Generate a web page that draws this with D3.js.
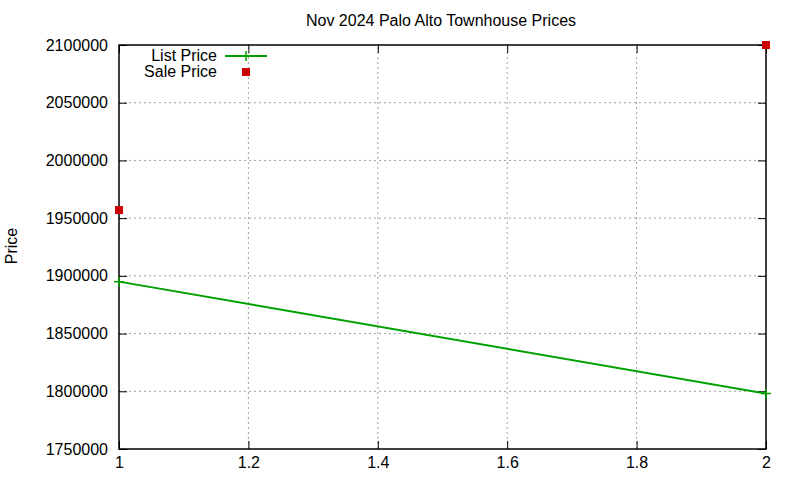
<!DOCTYPE html>
<html>
<head>
<meta charset="utf-8">
<script src="https://cdn.jsdelivr.net/npm/d3@7"></script>
<style>
  body { margin: 0; background: #fff; }
  svg text { font-family: "Liberation Sans", Arial, sans-serif; font-size: 16px; fill: #000; }
</style>
</head>
<body>
<div id="chart"></div>
<script>
// Data
const xValues = [1, 2];
const listPrice = [1895000, 1798000];
const salePrice = [1957000, 2100000];
const xTicks = [1, 1.2, 1.4, 1.6, 1.8, 2];
const yTicks = [1750000, 1800000, 1850000, 1900000, 1950000, 2000000, 2050000, 2100000];

const width = 800, height = 480;
const margin = { left: 119, right: 34, top: 45, bottom: 31 };

const svg = d3.select('#chart')
    .append('svg')
    .attr('width', width)
    .attr('height', height);

const x = d3.scaleLinear().domain([1, 2]).range([margin.left, width - margin.right]);
const y = d3.scaleLinear().domain([1750000, 2100000]).range([height - margin.bottom, margin.top]);

// Grid lines
const grid = svg.append('g').attr('stroke', '#a0a0a0').attr('stroke-dasharray', '2,3').attr('stroke-width', 1);
grid.selectAll('.gx')
    .data(xTicks.slice(1, -1))
    .enter().append('line')
    .attr('x1', d => x(d)).attr('x2', d => x(d))
    .attr('y1', y.range()[0]).attr('y2', y.range()[1]);
grid.selectAll('.gy')
    .data(yTicks.slice(1, -1))
    .enter().append('line')
    .attr('x1', x.range()[0]).attr('x2', x.range()[1])
    .attr('y1', d => y(d)).attr('y2', d => y(d));

// Axes (ticks pointing inward, mirrored)
const axisLeft = d3.axisLeft(y).tickValues(yTicks).tickFormat(d3.format('d')).tickSizeInner(-8).tickSizeOuter(0).tickPadding(11);
const axisRight = d3.axisRight(y).tickValues(yTicks).tickFormat('').tickSizeInner(-8).tickSizeOuter(0);
const axisBottom = d3.axisBottom(x).tickValues(xTicks).tickFormat(d3.format('~g')).tickSizeInner(-8).tickSizeOuter(0).tickPadding(8);
const axisTop = d3.axisTop(x).tickValues(xTicks).tickFormat('').tickSizeInner(-8).tickSizeOuter(0);

function styleAxis(g) {
    g.select('.domain').remove();
    g.selectAll('line').attr('stroke', '#000');
    g.selectAll('text').attr('font-size', 16).attr('font-family', '"Liberation Sans", Arial, sans-serif');
}

svg.append('g').attr('transform', `translate(${margin.left},0)`).call(axisLeft).call(styleAxis);
svg.append('g').attr('transform', `translate(${width - margin.right},0)`).call(axisRight).call(styleAxis);
svg.append('g').attr('transform', `translate(0,${height - margin.bottom})`).call(axisBottom).call(styleAxis);
svg.append('g').attr('transform', `translate(0,${margin.top})`).call(axisTop).call(styleAxis);

// Border
svg.append('rect')
    .attr('x', margin.left).attr('y', margin.top)
    .attr('width', x.range()[1] - x.range()[0])
    .attr('height', y.range()[0] - y.range()[1])
    .attr('fill', 'none').attr('stroke', '#000').attr('stroke-width', 1.5);

// List price line
const listData = xValues.map((v, i) => [v, listPrice[i]]);
const line = d3.line().x(d => x(d[0])).y(d => y(d[1]));
svg.append('path')
    .datum(listData)
    .attr('d', line)
    .attr('fill', 'none')
    .attr('stroke', '#00a000')
    .attr('stroke-width', 2);

const plusPath = 'M-5,0H5M0,-5V5';
svg.selectAll('.plus')
    .data(listData)
    .enter().append('path')
    .attr('transform', d => `translate(${x(d[0])},${y(d[1])})`)
    .attr('d', plusPath)
    .attr('stroke', '#00a000')
    .attr('stroke-width', 1.5);

// Sale price points
const saleData = xValues.map((v, i) => [v, salePrice[i]]);
svg.selectAll('.sq')
    .data(saleData)
    .enter().append('rect')
    .attr('x', d => x(d[0]) - 4)
    .attr('y', d => y(d[1]) - 4)
    .attr('width', 8).attr('height', 8)
    .attr('fill', '#cc0000');

// Title
svg.append('text')
    .attr('x', 441).attr('y', 26)
    .attr('text-anchor', 'middle')
    .text('Nov 2024 Palo Alto Townhouse Prices');

// Y label
svg.append('text')
    .attr('transform', 'translate(17,246) rotate(-90)')
    .attr('text-anchor', 'middle')
    .text('Price');

// Legend
const legend = svg.append('g');
legend.append('text').attr('x', 217).attr('y', 61).attr('text-anchor', 'end').text('List Price');
legend.append('line').attr('x1', 225).attr('x2', 267).attr('y1', 56).attr('y2', 56)
    .attr('stroke', '#00a000').attr('stroke-width', 2);
legend.append('path').attr('transform', 'translate(246,56)').attr('d', plusPath)
    .attr('stroke', '#00a000').attr('stroke-width', 1.5);
legend.append('text').attr('x', 217).attr('y', 77).attr('text-anchor', 'end').text('Sale Price');
legend.append('rect').attr('x', 242).attr('y', 68).attr('width', 8).attr('height', 8).attr('fill', '#cc0000');
</script>
</body>
</html>
